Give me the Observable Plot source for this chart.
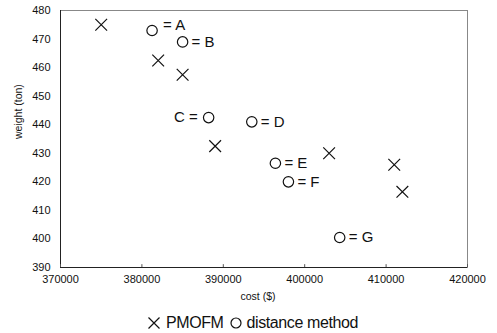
<!DOCTYPE html>
<html>
<head>
<meta charset="utf-8">
<script src="https://cdn.jsdelivr.net/npm/d3@7"></script>
<script src="https://cdn.jsdelivr.net/npm/@observablehq/plot@0.6"></script>
<style>
  html, body { margin: 0; padding: 0; background: #fff; }
  #wrap { position: relative; width: 497px; height: 333px; font-family: "Liberation Sans", Arial, sans-serif; }
  #legend { position: absolute; left: 146px; top: 313px; font-size: 16px; line-height: 20px; letter-spacing: -0.4px; color: #111; white-space: nowrap; display: flex; align-items: center; }
  #legend svg { display: inline-block; }
</style>
</head>
<body>
<div id="wrap">
  <div id="chart"></div>
  <div id="legend"></div>
</div>
<script>
// PMOFM solutions (× markers)
const pmofmCost = [375000, 382000, 385000, 389000, 403000, 411000, 412000];
const pmofmWeight = [475, 462.5, 457.5, 432.5, 430, 426, 416.5];

// distance method solutions (○ markers), labelled A–G
const distLabels = ["A", "B", "C", "D", "E", "F", "G"];
const distCost = [381250, 385000, 388200, 393500, 396400, 398000, 404300];
const distWeight = [473, 469, 442.5, 441, 426.5, 420, 400.5];

// axis ticks
const xTicks = [370000, 380000, 390000, 400000, 410000, 420000];
const yTicks = [390, 400, 410, 420, 430, 440, 450, 460, 470, 480];

const xTitle = "cost ($)";
const yTitle = "weight (ton)";
const legendItems = ["PMOFM", "distance method"];

const pmofm = pmofmCost.map((c, i) => ({cost: c, weight: pmofmWeight[i]}));
const dist = distCost.map((c, i) => ({cost: c, weight: distWeight[i], label: distLabels[i]}));

const font = "'Liberation Sans', Arial, sans-serif";

const chart = Plot.plot({
  width: 497,
  height: 305,
  marginLeft: 60,
  marginRight: 30,
  marginTop: 10,
  marginBottom: 38,
  style: {fontFamily: font, fontSize: "11px", color: "#111", background: "#fff"},
  x: {domain: [370000, 420000], ticks: xTicks, tickFormat: d => String(d)},
  y: {domain: [390, 480], ticks: yTicks},
  marks: [
    Plot.frame({stroke: "#888", strokeWidth: 1}),
    Plot.ruleX([370000], {stroke: "#222", strokeWidth: 1}),
    Plot.ruleY([390], {stroke: "#222", strokeWidth: 1}),
    Plot.ruleX(xTicks, {y1: 390, y2: 391, stroke: "#555", strokeWidth: 1}),
    Plot.axisX({ticks: xTicks, tickSize: 0, tickPadding: 8, label: null, tickFormat: d => String(d), style: {letterSpacing: "0.9px"}}),
    Plot.axisY({ticks: yTicks, tickSize: 0, tickPadding: 10, label: null, style: {letterSpacing: "0.9px"}}),
    Plot.text([xTitle], {frameAnchor: "bottom", dx: -6, dy: 32, fontSize: 10.5, fill: "#111"}),
    Plot.text([yTitle], {frameAnchor: "left", dx: -42, rotate: -90, fontSize: 10.5, fill: "#111"}),
    Plot.dot(pmofm, {x: "cost", y: "weight", symbol: "times", r: 5.4, stroke: "#111", strokeWidth: 1.2}),
    Plot.dot(dist, {x: "cost", y: "weight", symbol: "circle", r: 5.2, stroke: "#111", strokeWidth: 1.2, fill: "none"}),
    Plot.text(dist, {filter: d => d.label === "A", x: "cost", y: "weight", text: d => "= " + d.label, dx: 11, dy: -5, textAnchor: "start", fontSize: 15, fill: "#111"}),
    Plot.text(dist, {filter: d => d.label !== "A" && d.label !== "C", x: "cost", y: "weight", text: d => "= " + d.label, dx: 9, textAnchor: "start", fontSize: 15, fill: "#111"}),
    Plot.text(dist, {filter: d => d.label === "C", x: "cost", y: "weight", text: d => d.label + " =", dx: -11, textAnchor: "end", fontSize: 15, fill: "#111"})
  ]
});
document.getElementById("chart").appendChild(chart);

// legend below the plot
const legend = document.getElementById("legend");
const ns = "http://www.w3.org/2000/svg";
function sym(kind) {
  const s = document.createElementNS(ns, "svg");
  s.setAttribute("width", 16); s.setAttribute("height", 16);
  s.setAttribute("viewBox", "-8 -8 16 16");
  if (kind === "times") {
    const p = document.createElementNS(ns, "path");
    p.setAttribute("d", "M-5.5,-5.5L5.5,5.5M5.5,-5.5L-5.5,5.5");
    p.setAttribute("stroke", "#111"); p.setAttribute("stroke-width", "1.2"); p.setAttribute("fill", "none");
    s.appendChild(p);
  } else {
    const c = document.createElementNS(ns, "circle");
    c.setAttribute("r", 5); c.setAttribute("stroke", "#111"); c.setAttribute("stroke-width", "1.2"); c.setAttribute("fill", "none");
    s.appendChild(c);
  }
  return s;
}
function txt(t, ml, mr) {
  const sp = document.createElement("span");
  sp.textContent = t; sp.style.marginLeft = ml + "px"; sp.style.marginRight = mr + "px";
  return sp;
}
legend.appendChild(sym("times"));
legend.appendChild(txt(legendItems[0], 4, 4));
legend.appendChild(sym("circle"));
legend.appendChild(txt(legendItems[1], 3, 0));
</script>
</body>
</html>
